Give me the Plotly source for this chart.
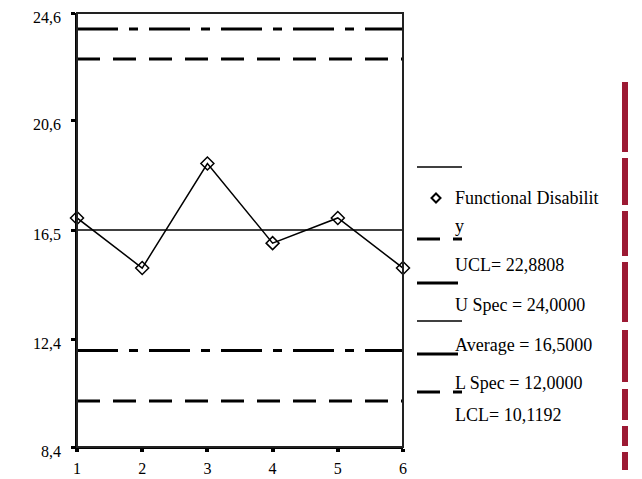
import plotly.graph_objects as go

# ---- data ----
samples = [1, 2, 3, 4, 5, 6]
values = [16.95, 15.08, 18.98, 16.01, 16.95, 15.08]
UCL = 22.8808
USPEC = 24.0
AVERAGE = 16.5
LSPEC = 12.0
LCL = 10.1192
y_tick_vals = [8.4, 12.4, 16.5, 20.6, 24.6]
y_tick_text = ["8,4", "12,4", "16,5", "20,6", "24,6"]
x_tick_vals = [1, 2, 3, 4, 5, 6]
legend_texts = ["Functional Disabilit", "y", "UCL= 22,8808", "U Spec = 24,0000",
                "Average = 16,5000", "L Spec = 12,0000", "LCL= 10,1192"]

OFF = 8  # page body margin
W, H = 642 - OFF, 479 - OFF
ML, MR, MT = 77 - OFF, 642 - 403, 13 - OFF
MB = H - (447 - OFF)
PW, PH = W - ML - MR, H - MT - MB
FONT = "Liberation Serif, Times New Roman, serif"


def px(x):
    return (x - OFF - ML) / PW


def py(y):
    return (H - MB - (y - OFF)) / PH


fig = go.Figure()

dash_long = "23px,13px"
dash_dot = "41px,11px,9px,11px"

ctrl = [(USPEC, dash_dot, 3), (UCL, dash_long, 3), (AVERAGE, "solid", 1.3),
        (LSPEC, dash_dot, 3), (LCL, dash_long, 3)]
for val, dash, w in ctrl:
    fig.add_trace(go.Scatter(x=[samples[0], samples[-1]], y=[val, val], mode="lines",
                             line=dict(color="black", width=w, dash=dash),
                             showlegend=False, hoverinfo="skip"))

fig.add_trace(go.Scatter(x=samples, y=values, mode="lines+markers",
                         line=dict(color="black", width=1.5),
                         marker=dict(symbol="diamond-open", size=10, color="black",
                                     line=dict(width=1.5, color="black")),
                         cliponaxis=False, showlegend=False))

shapes = []

# plot frame (top and right edges)
shapes.append(dict(type="rect", xref="paper", yref="paper", x0=0, x1=1, y0=0, y1=1,
                   line=dict(color="#222222", width=2), layer="above"))


def hline(x0, x1, y, w):
    shapes.append(dict(type="line", xref="paper", yref="paper", x0=px(x0), x1=px(x1),
                       y0=py(y), y1=py(y), line=dict(color="black", width=w)))


# custom legend
hline(417, 462, 167, 1.3)
cx, cy, s = 436, 198, 4.5
shapes.append(dict(type="path", xref="paper", yref="paper",
                   path=f"M {px(cx)},{py(cy - s)} L {px(cx + s)},{py(cy)} L {px(cx)},{py(cy + s)} L {px(cx - s)},{py(cy)} Z",
                   line=dict(color="black", width=2)))
hline(417, 440, 239, 3)
hline(453, 462, 239, 3)
hline(417, 458, 283, 3)
hline(417, 462, 321, 1.3)
hline(417, 458, 354, 3)
hline(417, 440, 392, 3)
hline(453, 462, 392, 3)

# decorative red band at right edge (of the visible area)
red_segments = [(82, 152), (158, 205), (211, 256), (262, 322), (330, 382), (389, 420), (426, 446), (452, 470)]
for y0, y1 in red_segments:
    shapes.append(dict(type="rect", xref="paper", yref="paper", x0=px(622), x1=px(628),
                       y0=py(y1), y1=py(y0), fillcolor="#9c1a34", line=dict(width=0)))

annotations = []
text_y = [198, 226, 265, 305, 345, 383, 415]
for t, yy in zip(legend_texts, text_y):
    annotations.append(dict(xref="paper", yref="paper", x=px(453), y=py(yy), text=t,
                            showarrow=False, xanchor="left", yanchor="middle",
                            font=dict(family=FONT, size=18, color="black")))

# y tick labels (sit slightly below their tick marks, as in the reference)
for v, t in zip(y_tick_vals, y_tick_text):
    annotations.append(dict(xref="paper", yref="y", x=px(63), y=v, text=t,
                            showarrow=False, xanchor="right", yanchor="middle", yshift=-4,
                            font=dict(family=FONT, size=16, color="black")))

fig.update_layout(
    width=W, height=H,
    margin=dict(l=ML, r=MR, t=MT, b=MB, pad=0, autoexpand=False),
    paper_bgcolor="white", plot_bgcolor="white",
    shapes=shapes, annotations=annotations,
    showlegend=False,
    xaxis=dict(range=[1, 6], tickvals=x_tick_vals, showline=True, linewidth=2,
               linecolor="black", mirror=False, ticks="outside", ticklen=3, tickwidth=4,
               tickcolor="black", showgrid=False, zeroline=False, automargin=False,
               ticklabeloverflow="allow", ticklabelstandoff=3,
               tickfont=dict(family=FONT, size=16, color="black")),
    yaxis=dict(range=[8.4, 24.6], tickvals=y_tick_vals, showticklabels=False,
               showline=True, linewidth=2, linecolor="black", mirror=False,
               ticks="outside", ticklen=4, tickwidth=3, tickcolor="black",
               showgrid=False, zeroline=False, automargin=False),
)

fig.write_html("out.html")
